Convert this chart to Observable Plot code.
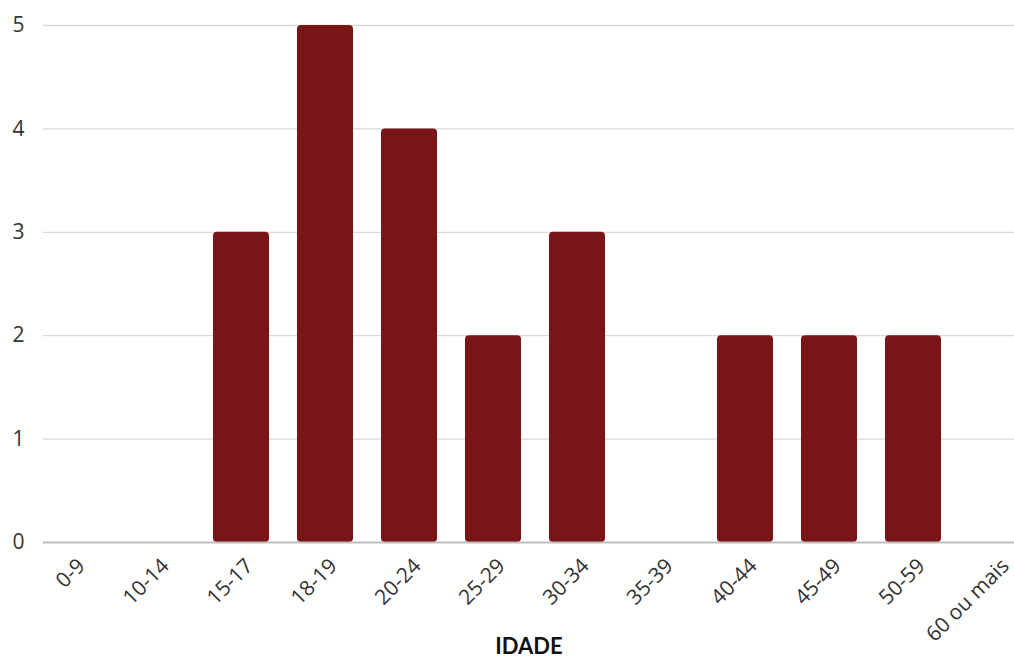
<!DOCTYPE html>
<html>
<head>
<meta charset="utf-8">
<script src="https://cdn.jsdelivr.net/npm/d3@7"></script>
<script src="https://cdn.jsdelivr.net/npm/@observablehq/plot@0.6"></script>
<style>
  html, body { margin: 0; padding: 0; background: #fff; }
  #chart svg { display: block; }
</style>
</head>
<body>
<div id="chart"></div>
<script>
const categories = ["0-9", "10-14", "15-17", "18-19", "20-24", "25-29", "30-34", "35-39", "40-44", "45-49", "50-59", "60 ou mais"];
const values = [0, 0, 3, 5, 4, 2, 3, 0, 2, 2, 2, 0];
const yTicks = [0, 1, 2, 3, 4, 5];
const xLabel = "IDADE";

const data = categories.map((c, i) => ({ idade: c, n: values[i] }));

const chart = Plot.plot({
  width: 1014,
  height: 665,
  marginLeft: 43,
  marginRight: 0,
  marginTop: 25,
  marginBottom: 123,
  style: { fontFamily: "'Open Sans', Lato, sans-serif", fontSize: "19px", color: "#333", background: "#fff" },
  x: { domain: categories, range: [43, 1027], paddingInner: 0.336, paddingOuter: 0, label: null },
  y: { domain: [0, 5], ticks: yTicks, label: null },
  marks: [
    Plot.gridY(yTicks.filter(d => d > 0), { stroke: "#d9d9d9", strokeOpacity: 1, strokeWidth: 1.3 }),
    Plot.barY(data.filter(d => d.n > 0), { x: "idade", y: "n", fill: "#7a1517", rx: 4 }),
    Plot.ruleY([0], { stroke: "#bdbdbd", strokeWidth: 2 }),
    Plot.axisY({ ticks: yTicks, tickFormat: d3.format("d"), tickSize: 0, tickPadding: 19, fontSize: 21, fill: "#333", label: null }),
    Plot.axisX({ tickSize: 0, tickPadding: 20, dx: 8, tickRotate: -45, fontSize: 21, fill: "#333", label: null }),
    Plot.text([xLabel], { frameAnchor: "bottom", dy: 111, text: d => d, fontSize: 22, fontWeight: "bold", fill: "#111", fontFamily: "Lato, sans-serif" })
  ]
});
document.getElementById("chart").appendChild(chart);
</script>
</body>
</html>
